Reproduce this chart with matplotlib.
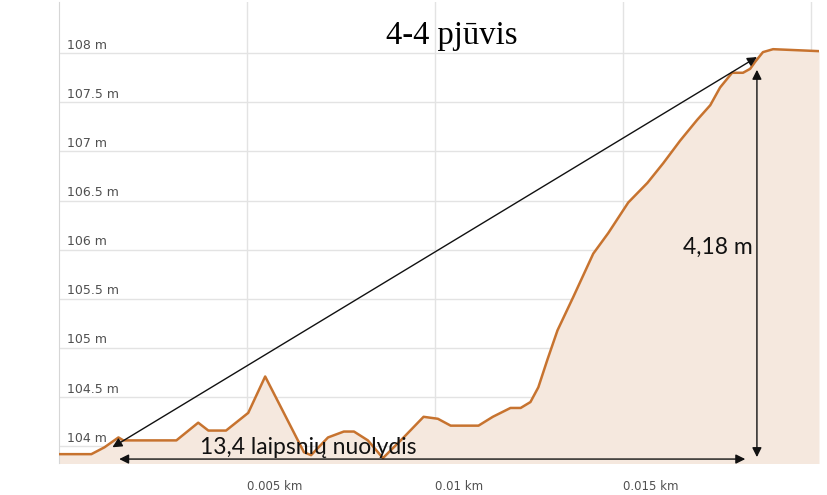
import matplotlib
matplotlib.use('Agg')
import matplotlib.pyplot as plt
import matplotlib.transforms as mtransforms

# elevation profile, distance in km / height in m
dist_km = [0.0, 0.00086, 0.00121, 0.00158, 0.00171, 0.00312, 0.00370, 0.00397,
           0.00444, 0.00503, 0.00548, 0.00651, 0.00670, 0.00715, 0.00757, 0.00784,
           0.00821, 0.00861, 0.00916, 0.00969, 0.01007, 0.01041, 0.01115, 0.01153,
           0.01200, 0.01227, 0.01253, 0.01274, 0.01298, 0.01325, 0.01346, 0.01367,
           0.01420, 0.01460, 0.01513, 0.01564, 0.01606, 0.01651, 0.01696, 0.01731,
           0.01757, 0.01789, 0.01818, 0.01837, 0.01850, 0.01871, 0.01898, 0.0202]
elev_m = [103.92, 103.92, 103.99, 104.09, 104.06, 104.06, 104.24, 104.16,
          104.16, 104.34, 104.71, 103.94, 103.91, 104.09, 104.15, 104.15,
          104.06, 103.88, 104.09, 104.30, 104.28, 104.21, 104.21, 104.30,
          104.39, 104.39, 104.45, 104.60, 104.88, 105.18, 105.35, 105.52,
          105.96, 106.17, 106.48, 106.68, 106.88, 107.11, 107.32, 107.47,
          107.65, 107.80, 107.80, 107.84, 107.91, 108.01, 108.04, 108.02]

y_ticks = [104, 104.5, 105, 105.5, 106, 106.5, 107, 107.5, 108]
x_ticks = [0.005, 0.01, 0.015, 0.02]
x_labels = ['0.005 km', '0.01 km', '0.015 km', '']

title = '4-4 pjūvis'
slope_text = '13,4 laipsnių nuolydis'
height_text = '4,18 m'

line_col = '#c7732f'
fill_col = '#f5e8de'
grid_col = '#e3e3e3'
tick_col = '#505050'

fig = plt.figure(figsize=(8.28, 4.95), dpi=100)
ax = fig.add_axes([59/828, 1 - 463/495, 760/828, 461/495])

ax.fill_between(dist_km, elev_m, 103.5, color=fill_col, lw=0, zorder=1)
ax.plot(dist_km, elev_m, color=line_col, lw=1.8, zorder=3)

ax.set_xlim(0, 0.0202)
ax.set_ylim(103.83, 108.52)

ax.set_xticks(x_ticks)
ax.set_xticklabels(x_labels)
ax.set_yticks(y_ticks)
ax.set_yticklabels([])
ax.tick_params(axis='both', length=0)
ax.tick_params(axis='x', pad=12, labelsize=8.5, labelcolor=tick_col)
plt.setp(ax.get_xticklabels(), ha='left', family='DejaVu Sans')
ax.grid(True, color=grid_col, lw=1, zorder=0)
ax.set_axisbelow(True)

for s in ['top', 'right', 'bottom']:
    ax.spines[s].set_visible(False)
ax.spines['left'].set_color('#d6d6d6')

# y labels sit inside the plot, just above their grid line
trans = mtransforms.blended_transform_factory(ax.transAxes, ax.transData)
off = mtransforms.ScaledTranslation(8/100, 1.5/100, fig.dpi_scale_trans)
for v in y_ticks:
    lab = ('%g m' % v)
    ax.text(0, v, lab, transform=trans + off, ha='left', va='bottom',
            fontsize=9, color=tick_col, zorder=4)

fig.text(452/828, 1 - 36/495, title, ha='center', va='center',
         family='Liberation Serif', fontsize=23.5, color='black')

arrow = dict(arrowstyle='<|-|>', color='#111111', lw=1.0,
             mutation_scale=14, shrinkA=0, shrinkB=0)
# slope line
ax.annotate('', xy=(0.01855, 107.96), xytext=(0.00142, 103.99),
            arrowprops=arrow, zorder=5)
# horizontal distance
ax.annotate('', xy=(0.01824, 103.87), xytext=(0.00160, 103.87),
            arrowprops=arrow, zorder=5)
# height difference
ax.annotate('', xy=(0.01855, 107.83), xytext=(0.01855, 103.89),
            arrowprops=arrow, zorder=5)

ax.text(0.00662, 103.99, slope_text, ha='center', va='center',
        family='Lato', fontsize=16.5, color='#111111', zorder=6)
ax.text(0.01844, 106.02, height_text, ha='right', va='center',
        family='Lato', fontsize=16.5, color='#111111', zorder=6)

fig.savefig('out.png', dpi=100)
